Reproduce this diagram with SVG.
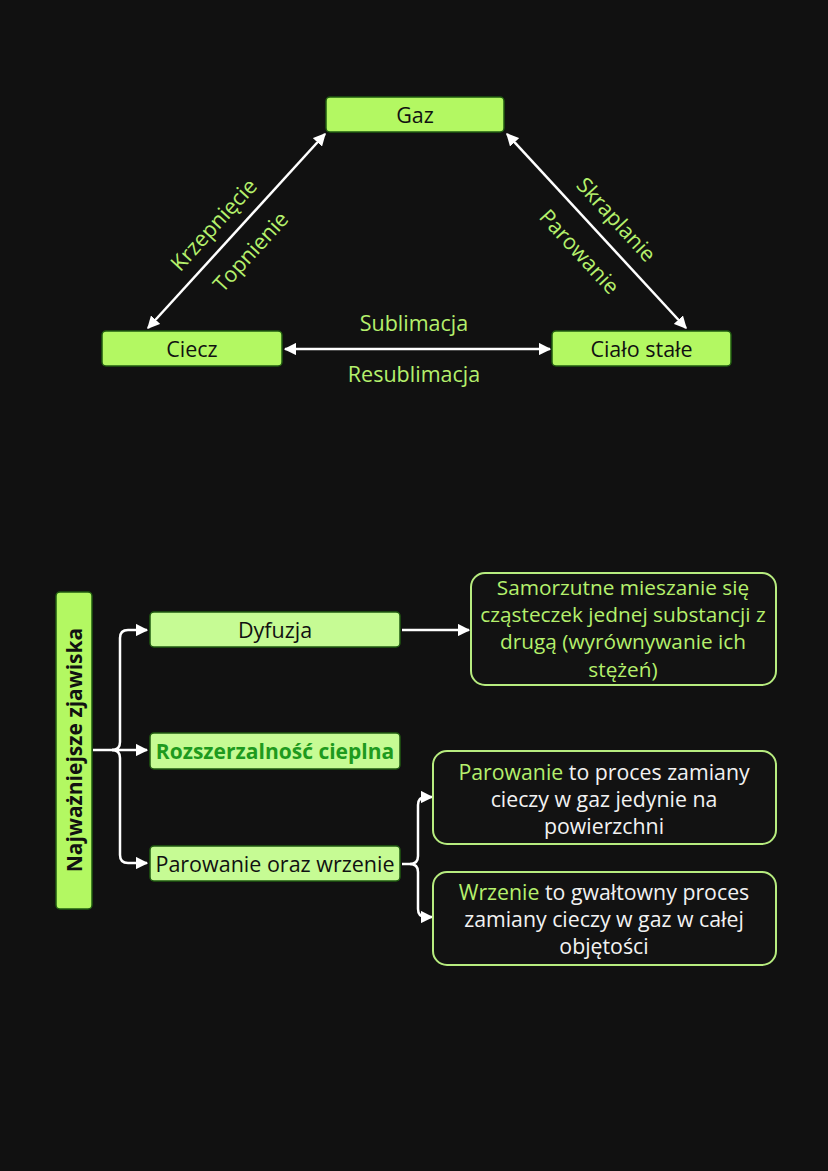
<svg xmlns="http://www.w3.org/2000/svg" width="828" height="1171" viewBox="0 0 828 1171">
<defs>
<style>
text{font-family:"Open Sans","Noto Sans","Liberation Sans",sans-serif;}
.node{fill:#b3f862;stroke:#1f5a10;stroke-width:1.5;}
.node2{fill:#c6fb94;stroke:#1f5a10;stroke-width:1.5;}
.desc{fill:#121212;stroke:#b7ec7f;stroke-width:2;}
.dark{fill:#111;font-size:21.5px;text-anchor:middle;dominant-baseline:central;}
.lbl{fill:#b5f06c;font-size:21.5px;text-anchor:middle;dominant-baseline:central;}
.dtxt{fill:#f2f2f2;font-size:21.3px;text-anchor:middle;}
.hl{fill:#b5f06c;}
.con{stroke:#fff;stroke-width:2.5;fill:none;}
</style>
<marker id="ah" viewBox="0 0 10 10" refX="9" refY="5" markerWidth="5" markerHeight="5" orient="auto-start-reverse" markerUnits="strokeWidth">
<path d="M0,0 L10,5 L0,10 z" fill="#fff"/>
</marker>
</defs>
<rect x="0" y="0" width="828" height="1171" fill="#111111"/>

<g id="connectors">
<line class="con" x1="148" y1="328" x2="325" y2="134" marker-start="url(#ah)" marker-end="url(#ah)"/>
<line class="con" x1="507" y1="134" x2="686" y2="328" marker-start="url(#ah)" marker-end="url(#ah)"/>
<line class="con" x1="285" y1="349" x2="550" y2="349" marker-start="url(#ah)" marker-end="url(#ah)"/>
<path class="con" d="M93,750 H112 Q120,750 120,742 V638 Q120,630 128,630 H147" marker-end="url(#ah)"/>
<path class="con" d="M112,750 Q120,750 120,758 V855 Q120,863 128,863 H147" marker-end="url(#ah)"/>
<path class="con" d="M112,750 H147" marker-end="url(#ah)"/>
<path class="con" d="M402,630 H469" marker-end="url(#ah)"/>
<path class="con" d="M402,864 H410 Q418,864 418,856 V805 Q418,797 426,797 H432" marker-end="url(#ah)"/>
<path class="con" d="M410,864 Q418,864 418,872 V909 Q418,917 426,917 H432" marker-end="url(#ah)"/>
<text class="lbl" transform="translate(213,224) rotate(-47.6)">Krzepnięcie</text>
<text class="lbl" transform="translate(250,251) rotate(-47.6)">Topnienie</text>
<text class="lbl" transform="translate(617,219) rotate(47.4)">Skraplanie</text>
<text class="lbl" transform="translate(580,251) rotate(47.4)">Parowanie</text>
<text class="lbl" x="414" y="322">Sublimacja</text>
<text class="lbl" x="414" y="373">Resublimacja</text>
</g>

<g id="gaz">
<rect class="node" x="326" y="97" width="178" height="35" rx="4"/>
<text class="dark" x="415" y="114.5">Gaz</text>
</g>
<g id="ciecz">
<rect class="node" x="102" y="331" width="180" height="35" rx="4"/>
<text class="dark" x="192" y="348.5">Ciecz</text>
</g>
<g id="cialo">
<rect class="node" x="552" y="331" width="179" height="35" rx="4"/>
<text class="dark" x="641.5" y="348.5">Ciało stałe</text>
</g>

<g id="zjawiska">
<rect class="node" x="56" y="592" width="36" height="317" rx="4"/>
<text class="dark" transform="translate(74,750) rotate(-90)" style="font-weight:bold;font-size:21px">Najważniejsze zjawiska</text>
</g>
<g id="dyfuzja">
<rect class="node2" x="150" y="612" width="250" height="35" rx="4"/>
<text class="dark" x="275" y="629.5">Dyfuzja</text>
</g>
<g id="rozszerzalnosc">
<rect class="node2" x="150" y="733" width="250" height="36" rx="4"/>
<text class="dark" x="275" y="750.5" style="fill:#1e9a1e;font-weight:bold;font-size:21px">Rozszerzalność cieplna</text>
</g>
<g id="parowanie-wrzenie">
<rect class="node2" x="150" y="846" width="250" height="35" rx="4"/>
<text class="dark" x="275" y="863.5">Parowanie oraz wrzenie</text>
</g>
<g id="dyfuzja-opis">
<rect class="desc" x="471" y="573" width="305" height="112" rx="14"/>
<text class="dtxt hl" x="623" y="595" style="font-size:20.8px">Samorzutne mieszanie się</text>
<text class="dtxt hl" x="623" y="622" style="font-size:20.8px">cząsteczek jednej substancji z</text>
<text class="dtxt hl" x="623" y="649" style="font-size:20.8px">drugą (wyrównywanie ich</text>
<text class="dtxt hl" x="623" y="677" style="font-size:20.8px">stężeń)</text>
</g>
<g id="parowanie-opis">
<rect class="desc" x="433" y="751" width="343" height="93" rx="14"/>
<text class="dtxt" x="604" y="780"><tspan class="hl">Parowanie</tspan> to proces zamiany</text>
<text class="dtxt" x="604" y="807">cieczy w gaz jedynie na</text>
<text class="dtxt" x="604" y="834">powierzchni</text>
</g>
<g id="wrzenie-opis">
<rect class="desc" x="433" y="872" width="343" height="93" rx="14"/>
<text class="dtxt" x="604" y="900"><tspan class="hl">Wrzenie</tspan> to gwałtowny proces</text>
<text class="dtxt" x="604" y="927">zamiany cieczy w gaz w całej</text>
<text class="dtxt" x="604" y="954">objętości</text>
</g>
</svg>
